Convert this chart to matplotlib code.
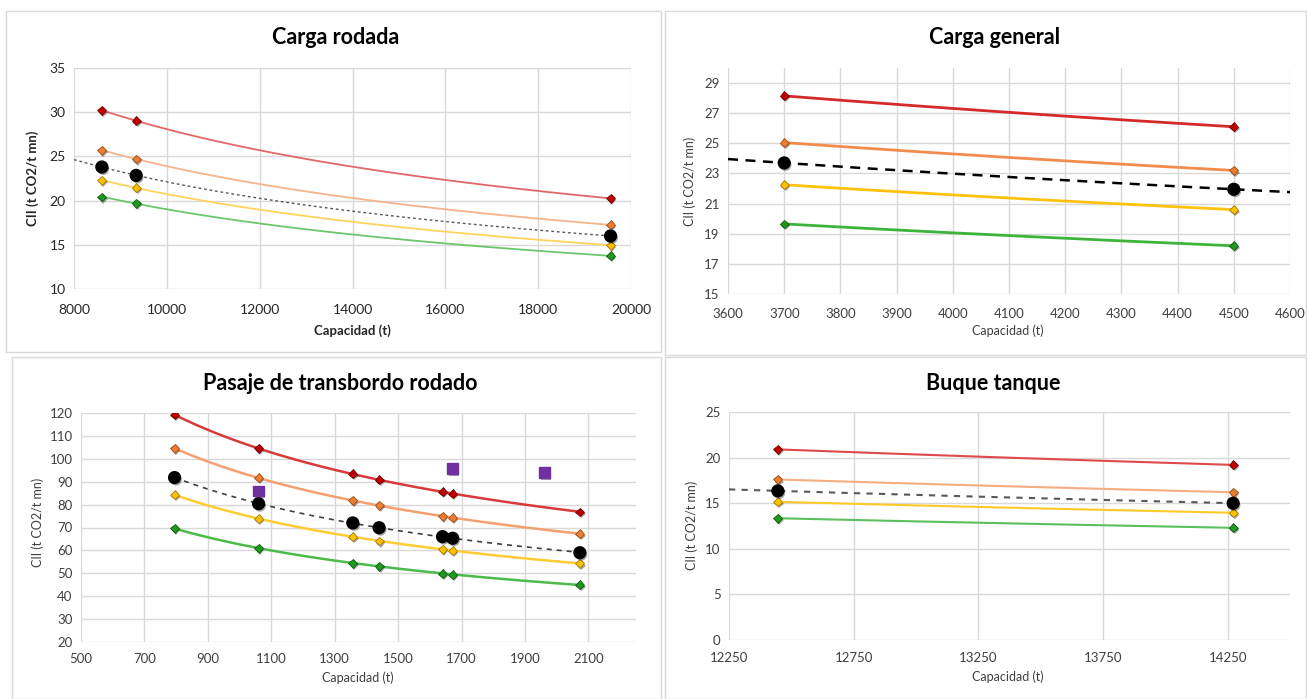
import numpy as np
import matplotlib
matplotlib.use("Agg")
import matplotlib.pyplot as plt
import matplotlib.patheffects as pe
from matplotlib.patches import Rectangle

# --- datos ---
# Carga rodada
cr_cap = [8600, 9340, 19560]
cr_rojo = [30.2, 29.05, 20.25]
cr_naranja = [25.7, 24.7, 17.25]
cr_amarillo = [22.3, 21.45, 14.95]
cr_verde = [20.4, 19.7, 13.75]
cr_buque = [23.8, 22.85, 16.0]

# Carga general
cg_cap = [3700, 4500]
cg_rojo = [28.15, 26.1]
cg_naranja = [25.05, 23.2]
cg_amarillo = [22.25, 20.6]
cg_verde = [19.65, 18.2]
cg_buque = [23.7, 21.95]

# Pasaje de transbordo rodado
pt_cap = [795, 1060, 1357, 1440, 1640, 1672, 2073]
pt_rojo = [119.2, 104.5, 93.4, 90.8, 85.6, 84.8, 76.8]
pt_naranja = [104.5, 91.7, 81.8, 79.7, 74.9, 74.2, 67.3]
pt_amarillo = [84.3, 73.9, 65.9, 64.1, 60.5, 59.9, 54.3]
pt_verde = [69.6, 61.0, 54.4, 53.1, 49.9, 49.4, 45.0]
pt_buque = [91.8, 80.4, 72.0, 69.9, 66.0, 65.3, 59.0]
pt_extra_cap = [1060, 1672, 1962]
pt_extra = [85.9, 95.8, 94.0]

# Buque tanque
bt_cap = [12446, 14272]
bt_rojo = [20.9, 19.2]
bt_naranja = [17.6, 16.2]
bt_amarillo = [15.15, 13.95]
bt_verde = [13.35, 12.3]
bt_buque = [16.35, 15.0]

W, H = 1307, 699
plt.rcParams['font.family'] = ['Lato', 'DejaVu Sans']

fig = plt.figure(figsize=(W / 100, H / 100), dpi=100)


def px(l, t, r, b):
    return [l / W, 1 - b / H, (r - l) / W, (b - t) / H]


def power_fit(x, y, x0, x1):
    b, a = np.polyfit(np.log(x), np.log(y), 1)
    xs = np.linspace(x0, x1, 200)
    return xs, np.exp(a) * xs ** b


mark_cols = ['#c00000', '#ed7d31', '#ffc000', '#1f9a1f']
edge_cols = ['#700000', '#9a4a10', '#a07800', '#0c560c']
shadow = [pe.SimplePatchShadow(offset=(1, -1.5), shadow_rgbFace='k', alpha=0.35), pe.Normal()]


def panel(rect, cap, series, buque, xlim, ylim, xticks, yticks, line_cols, lw,
          dash_x0, dash_col, dash_lw, dashes, tick_col, tick_fs, xpad):
    ax = fig.add_axes(px(*rect))
    for y, lc in zip(series, line_cols):
        xs, ys = power_fit(cap, y, cap[0], cap[-1])
        ax.plot(xs, ys, color=lc, lw=lw, zorder=2)
    xs, ys = power_fit(cap, buque, dash_x0[0], dash_x0[1])
    ax.plot(xs, ys, color=dash_col, lw=dash_lw, dashes=dashes, zorder=2)
    for y, mc, ec in zip(series, mark_cols, edge_cols):
        ax.plot(cap, y, ls='none', marker='D', ms=4.5, mfc=mc, mec=ec, mew=0.6,
                zorder=4, path_effects=shadow)
    ax.plot(cap, buque, ls='none', marker='o', ms=8.5, mfc='k', mec='k',
            zorder=5, path_effects=shadow)
    ax.set_xlim(*xlim)
    ax.set_ylim(*ylim)
    ax.set_xticks(xticks)
    ax.set_yticks(yticks)
    ax.grid(True, color='#d9d9d9', lw=1)
    ax.set_axisbelow(True)
    for s in ax.spines.values():
        s.set_visible(False)
    ax.tick_params(length=0, colors=tick_col, labelsize=tick_fs, pad=6)
    ax.tick_params(axis='x', pad=xpad)
    return ax


def frame(l, t, r, b):
    fig.add_artist(Rectangle((l / W, 1 - b / H), (r - l) / W, (b - t) / H,
                             transform=fig.transFigure, fill=False,
                             ec='#d9d9d9', lw=1))


def label(x, y, s, **kw):
    fig.text(x / W, 1 - y / H, s, ha='center', va='center', **kw)


frame(6, 11, 661, 352)
frame(665, 11, 1306, 355)
frame(12, 357, 661, 699)
frame(665, 357, 1306, 699)

# Carga rodada
panel((74, 68, 631, 289), cr_cap, [cr_rojo, cr_naranja, cr_amarillo, cr_verde], cr_buque,
      (8000, 20000), (10, 35), np.arange(8000, 20001, 2000), np.arange(10, 36, 5),
      ['#e06868', '#f6b48a', '#ffd45c', '#6cc66c'], 1.3,
      (8000, cr_cap[-1]), '#595959', 1.0, (2, 2), '#262626', 10, 11)
label(336, 37, 'Carga rodada', fontsize=15.5, fontweight='bold')
label(352, 331, 'Capacidad (t)', fontsize=9.5, fontweight='bold', color='#262626')
label(33, 178, 'CII (t CO2/t mn)', fontsize=9.5, fontweight='bold', rotation=90, color='#262626')

# Carga general
panel((728, 68, 1290, 294), cg_cap, [cg_rojo, cg_naranja, cg_amarillo, cg_verde], cg_buque,
      (3600, 4600), (15, 30), np.arange(3600, 4601, 100), np.arange(15, 30, 2),
      ['#d42a2a', '#f28c4c', '#ffc20e', '#3cb43c'], 2.0,
      (3600, 4600), 'k', 1.8, (4, 3), '#404040', 9.5, 10)
label(995, 37, 'Carga general', fontsize=15.5, fontweight='bold')
label(1008, 331, 'Capacidad (t)', fontsize=9, color='#404040')
label(690, 181, 'CII (t CO2/t mn)', fontsize=9, rotation=90, color='#404040')

# Pasaje de transbordo rodado
ax3 = panel((81, 413, 636, 642), pt_cap, [pt_rojo, pt_naranja, pt_amarillo, pt_verde], pt_buque,
            (500, 2250), (20, 120), np.arange(500, 2101, 200), np.arange(20, 121, 10),
            ['#d83a3a', '#f4a070', '#ffcc33', '#4cbb4c'], 1.8,
            (pt_cap[0], pt_cap[-1]), '#404040', 1.2, (3, 3), '#404040', 9.5, 8)
ax3.plot(pt_extra_cap, pt_extra, ls='none', marker='s', ms=7.5, mfc='#7030a0', mec='#7030a0',
         zorder=5, path_effects=shadow)
label(340, 383, 'Pasaje de transbordo rodado', fontsize=15.5, fontweight='bold')
label(358, 678, 'Capacidad (t)', fontsize=9, color='#404040')
label(38, 522, 'CII (t CO2/t mn)', fontsize=9, rotation=90, color='#404040')

# Buque tanque
panel((729, 412, 1290, 640), bt_cap, [bt_rojo, bt_naranja, bt_amarillo, bt_verde], bt_buque,
      (12250, 14500), (0, 25), np.arange(12250, 14251, 500), np.arange(0, 26, 5),
      ['#dd4a4a', '#f6ad80', '#ffca28', '#5cc05c'], 1.5,
      (12250, bt_cap[-1]), '#595959', 1.5, (3, 3), '#404040', 9.5, 9)
label(993, 383, 'Buque tanque', fontsize=15.5, fontweight='bold')
label(1008, 677, 'Capacidad (t)', fontsize=9, color='#404040')
label(692, 525, 'CII (t CO2/t mn)', fontsize=9, rotation=90, color='#404040')

fig.savefig('out.png', dpi=100)
